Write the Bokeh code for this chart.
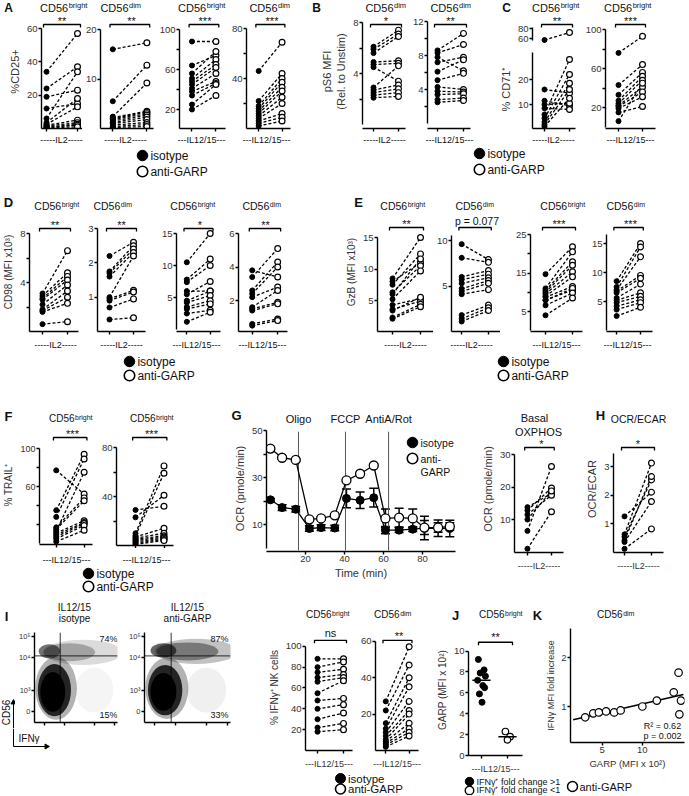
import numpy as np
from bokeh.plotting import figure
from bokeh.models import (Range1d, FixedTicker, Label, LinearAxis, ColumnDataSource,
                          Whisker, TeeHead)
from bokeh.layouts import row, column
from bokeh.embed import file_html
from bokeh.resources import INLINE

# ======================= DATA =======================
# A: %CD25+  (isotype -> anti-GARP pairs)
A1_iso = [34, 24, 19, 12, 6, 3.5, 2.5, 2.0, 1.5, 1.0, 0.7, 0.4]
A1_garp = [57, 37, 23, 15, 34, 18, 13, 5.0, 3.5, 2.5, 2.0, 1.0]
A2_iso = [16, 5.5, 2.4, 2.2, 2.0, 1.8, 1.5, 1.2, 1.0, 0.7, 0.4, 0.2]
A2_garp = [17.3, 12.8, 9.2, 3.5, 3.3, 3.0, 2.7, 2.3, 1.8, 1.2, 0.8, 0.4]
A3_iso = [88, 64, 56, 51, 48, 45, 41, 38, 34, 25, 20]
A3_garp = [88, 74, 78, 70, 65, 62, 56, 48, 46, 45, 34]
A4_iso = [46, 22, 18, 16, 14, 12, 10, 8, 6, 4, 2]
A4_garp = [69, 44, 40, 37, 33, 30, 25, 20, 12, 9, 6]
# B: pS6 MFI (rel. to unstim)
B1_iso = [6.1, 5.9, 5.6, 4.9, 4.7, 4.5, 2.9, 2.7, 2.5, 2.3, 2.1]
B1_garp = [7.4, 7.1, 6.9, 5.0, 4.8, 3.4, 4.6, 3.1, 2.8, 2.5, 2.2]
B2_iso = [8.6, 8.3, 7.8, 7.2, 6.1, 5.1, 4.3, 3.8, 3.4, 2.8, 2.5]
B2_garp = [10.6, 9.3, 6.2, 7.8, 7.5, 5.9, 4.0, 3.7, 3.5, 3.0, 2.7]
# C: %CD71+
C1_iso = [57, 16, 11.5, 10, 8.5, 6, 4.5, 3, 2, 1.2]
C1_garp = [72, 14.5, 9.5, 10.5, 8, 28, 22, 18.5, 16, 12.5]
C2_iso = [76, 43, 33, 27, 24, 22, 21, 19, 15, 6]
C2_garp = [93, 64, 56, 52, 48, 41, 36, 31, 21, 45]
# D: CD98 (MFI x10^3)
D1_iso = [3.1, 2.9, 2.7, 2.6, 2.2, 1.8, 1.7, 1.6, 0.6]
D1_garp = [6.6, 4.8, 4.5, 4.2, 3.8, 3.3, 2.8, 2.3, 0.8]
D2_iso = [2.2, 1.75, 1.7, 1.6, 1.0, 0.95, 0.9, 0.7, 0.35]
D2_garp = [2.6, 2.5, 2.4, 2.3, 2.2, 1.2, 1.15, 0.95, 0.4]
D3_iso = [10.5, 7.8, 7.4, 6.0, 5.5, 4.5, 4.2, 3.5, 3.2, 2.5, 1.2]
D3_garp = [15, 11, 10, 6.0, 7.5, 6.0, 5.3, 4.5, 4.0, 3.0, 2.7]
D4_iso = [3.8, 3.4, 2.6, 2.4, 2.2, 1.6, 1.5, 1.4, 0.6, 0.5]
D4_garp = [3.4, 5.1, 4.3, 4.0, 2.8, 2.6, 1.9, 1.8, 0.9, 0.8]
# E: GzB (MFI x10^3)
E1_iso = [8.5, 8.0, 7.5, 6.3, 6.0, 5.2, 4.3, 3.6, 3.4, 2.3, 2.1]
E1_garp = [15, 11, 12.4, 10.5, 11.6, 9.7, 5.3, 4.9, 5.5, 4.4, 4.0]
E2_iso = [9.6, 8.1, 6.0, 5.7, 5.3, 4.7, 4.4, 4.1, 1.8, 1.4, 1.1]
E2_garp = [7.9, 7.6, 6.7, 6.3, 5.9, 5.6, 5.3, 4.6, 2.9, 2.6, 2.3]
E3_iso = [14.7, 11, 10.5, 10, 9.6, 9, 8.7, 8, 7.9, 6.6, 4]
E3_garp = [21.8, 20.5, 17.9, 17, 15.3, 14, 11.5, 10.5, 11, 9.8, 8.5]
E4_iso = [8.5, 7.5, 7.0, 6.8, 6.5, 5.6, 5.2, 4.8, 4.2, 3.6, 2.5]
E4_garp = [15, 14.4, 12.7, 9.5, 9.0, 8.0, 6.5, 5.9, 5.3, 4.8, 4.0]
# F: % TRAIL+
F1_iso = [77, 35, 28, 17, 15, 13, 11, 9, 7, 5, 2]
F1_garp = [52, 94, 89, 48, 45, 75, 24, 22, 21, 19, 14]
F2_iso = [29, 23, 10, 8, 7, 6, 5, 4, 3, 2, 1]
F2_garp = [32, 41, 65, 59, 14, 10, 8, 7, 6, 5, 4]
# G: OCR time course (mean +/- err)
G_time = [2, 8, 15, 22, 28, 35, 41, 48, 55, 61, 68, 75, 81, 88, 94]
G_iso = [20.5, 17.2, 16.5, 8.3, 8.7, 8.5, 21.1, 20.3, 21.4, 7.6, 7.6, 8.0, 8.5, 8.4, 8.3]
G_iso_err = [0.6, 1.2, 1.2, 1.2, 1.2, 1.2, 4.0, 3.5, 4.0, 1.5, 1.0, 1.0, 5.0, 3.5, 3.5]
G_garp = [42.3, 38.4, 37.5, 12.2, 12.6, 13.9, 28.8, 31.6, 35.1, 12.6, 12.9, 12.6, 8.7, 8.7, 9.2]
G_garp_err = [0.6, 0.5, 0.5, 0.5, 0.5, 0.5, 0.5, 0.5, 0.5, 4.0, 4.0, 4.0, 3.0, 2.0, 1.5]
G_inject = [16.4, 40.5, 62.6]
G_inject_names = ["Oligo", "FCCP", "AntiA/Rot"]
# G: basal OXPHOS, H: OCR/ECAR
OX_iso = [13.8, 12.8, 11.5, 10.0, 6.5, 1.0]
OX_garp = [18.0, 19.7, 17.5, 18.8, 26.3, 12.4]
OE_iso = [1.25, 0.62, 0.53, 0.41, 0.35, 0.11]
OE_garp = [2.1, 3.12, 2.53, 2.65, 1.77, 0.81]
# I: flow plots (cell-cloud summaries: centre, size, density) and % IFNg+ NK cells
FLOW_ISO_CX = [58, 42, 18, 72, 26, 24, 22]
FLOW_ISO_CY = [78, 78, 79, 36, 38, 36, 34]
FLOW_ISO_W = [96, 62, 26, 46, 50, 40, 30]
FLOW_ISO_H = [28, 20, 16, 50, 70, 58, 44]
FLOW_ISO_A = [0.14, 0.26, 0.55, 0.04, 0.3, 0.8, 1.0]
FLOW_GARP_CX = [60, 50, 22, 72, 26, 24, 22]
FLOW_GARP_CY = [79, 79, 80, 36, 38, 36, 34]
FLOW_GARP_W = [96, 72, 30, 46, 50, 40, 30]
FLOW_GARP_H = [28, 20, 16, 50, 68, 56, 42]
FLOW_GARP_A = [0.24, 0.38, 0.6, 0.06, 0.3, 0.8, 1.0]
FLOW_GATE_X = 31
FLOW_GATE_Y = 74
FLOW_ISO_PCT = ["74%", "15%"]
FLOW_GARP_PCT = ["87%", "33%"]
FLOW_YT = [12, 36, 72, 96]
FLOW_YL = ["0", "10³", "10⁴", "10⁵"]
I1_iso = [88, 80, 75, 70, 66, 55, 48, 40, 30, 22, 18]
I1_garp = [88, 85, 78, 73, 70, 67, 50, 44, 36, 26, 20]
I2_iso = [27, 22, 15, 12, 10, 8, 6, 5, 4, 3, 2]
I2_garp = [57, 47, 40, 35, 27, 22, 20, 15, 12, 10, 8]
# J: GARP (MFI x10^2) by IFNg fold change
J_up = [9.2, 8.2, 7.9, 7.6, 7.2, 6.7, 6.5, 5.9, 5.1]
J_up_jit = [-0.12, 0.10, -0.05, 0.15, -0.15, 0.05, 0.12, -0.08, 0.02]
J_down = [2.3, 1.8, 1.5]
J_down_jit = [-0.08, 0.10, 0.0]
# K: IFNg MFI fold increase vs GARP
K_garp = [2.9, 3.9, 4.6, 5.5, 6.5, 7.3, 10.0, 11.8, 13.9, 14.5, 14.8, 14.6]
K_fold = [0.78, 0.86, 0.88, 0.90, 0.88, 0.92, 1.00, 1.12, 1.29, 1.69, 1.12, 0.84]

# ======================= HELPERS =======================
FONT = "Liberation Sans"
INK = "#111111"
GREY = "#333333"
FRAMES = {}
AW = {'C': .722, 'D': .722, '5': .556, '6': .556, 'b': .556, 'r': .333, 'i': .222,
      'g': .556, 'h': .556, 't': .278, 'd': .556, 'm': .833}


def tw(s, fs):
    return sum(AW.get(c, .55) for c in s) * fs


def mkfig(box, frame, xr, yr):
    L, T, R, B = box
    FL, FT, FR, FB = frame
    p = figure(width=R - L, height=B - T,
               x_range=Range1d(start=xr[0], end=xr[1]), y_range=Range1d(start=yr[0], end=yr[1]),
               output_backend="svg", toolbar_location=None, title=None,
               x_axis_location=None, y_axis_location=None,
               min_border_left=FL - L, min_border_right=R - FR,
               min_border_top=FT - T, min_border_bottom=B - FB)
    if "frame_align" in p.properties():
        p.frame_align = False
    p.outline_line_color = None
    p.background_fill_color = None
    p.border_fill_color = "white"
    p.grid.visible = False
    FRAMES[p.id] = frame
    return p


def band(box):
    L, T, R, B = box
    return mkfig(box, box, (L, R), (B, T))


def to_data(p, X, Y):
    FL, FT, FR, FB = FRAMES[p.id]
    xr, yr = p.x_range, p.y_range
    x = xr.start + (X - FL) / float(FR - FL) * (xr.end - xr.start)
    y = yr.start + (FB - Y) / float(FB - FT) * (yr.end - yr.start)
    return x, y


def lab(p, X, Y, text, fs=11, align="center", bold=False, angle=0.0, color=INK):
    FL, FT, FR, FB = FRAMES[p.id]
    p.add_layout(Label(x=X - FL, y=FB - Y, x_units="screen", y_units="screen",
                       text=text, text_font=FONT, text_font_size=f"{fs}px", text_color=color,
                       text_align=align, text_baseline="middle",
                       text_font_style="bold" if bold else "normal", angle=angle))


def sup_title(p, cx, cy, main, sup, fs=12, ss=8):
    wm, ws = tw(main, fs), tw(sup, ss)
    x0 = cx - (wm + ws) / 2
    lab(p, x0, cy, main, fs, align="left")
    lab(p, x0 + wm + 0.5, cy - 0.36 * (fs - ss) - 0.3, sup, ss, align="left")


def style_axis(ax, label, lfs, lstand):
    if label:
        ax.axis_label = label
        ax.axis_label_text_font = FONT
        ax.axis_label_text_font_size = lfs
        ax.axis_label_text_font_style = "normal"
        ax.axis_label_text_color = GREY
        ax.axis_label_standoff = lstand


def add_yaxis(p, bounds, ticks, shown=None, texts=None, label=None, fs="9.5px", lfs="11px", lstand=3):
    if texts is not None:
        major, minor, ov = list(ticks), [], dict(texts)
    else:
        major = list(ticks) if shown is None else list(shown)
        minor = [t for t in ticks if t not in major]
        ov = {}
    ax = LinearAxis(bounds=bounds, ticker=FixedTicker(ticks=major, minor_ticks=minor),
                    major_label_overrides=ov, axis_line_width=1.4, axis_line_color="black",
                    major_tick_line_width=1.4, major_tick_line_color="black",
                    minor_tick_line_width=1.4, minor_tick_line_color="black",
                    major_tick_in=0, major_tick_out=3, minor_tick_in=0, minor_tick_out=3,
                    major_label_standoff=1, major_label_text_font=FONT,
                    major_label_text_font_size=fs, major_label_text_color=GREY)
    style_axis(ax, label, lfs, lstand)
    p.add_layout(ax, "left")
    return ax


def add_xaxis(p, ticks=(0, 1), texts=None, label=None, fs="9.5px", lfs="11px", lstand=3):
    if texts is None:
        tk = FixedTicker(ticks=[], minor_ticks=list(ticks))
        ov = {}
    else:
        tk = FixedTicker(ticks=list(ticks), minor_ticks=[])
        ov = dict(texts)
    ax = LinearAxis(ticker=tk, major_label_overrides=ov,
                    axis_line_width=1.4, axis_line_color="black",
                    major_tick_line_width=1.4, major_tick_line_color="black",
                    minor_tick_line_width=1.4, minor_tick_line_color="black",
                    major_tick_in=0, major_tick_out=3, minor_tick_in=0, minor_tick_out=3,
                    major_label_standoff=1, major_label_text_font=FONT,
                    major_label_text_font_size=fs, major_label_text_color=GREY)
    style_axis(ax, label, lfs, lstand)
    p.add_layout(ax, "below")
    return ax


def bracket(p, bx0, bx1, by, text, fs=11):
    xa, ya = to_data(p, bx0, by)
    xb, _ = to_data(p, bx1, by)
    _, yt = to_data(p, bx0, by + 3)
    p.line(x=[xa, xa, xb, xb], y=[yt, ya, ya, yt], line_color="black", line_width=1.3)
    if "*" in text:
        lab(p, (bx0 + bx1) / 2, by - 3.2, text, fs)
    else:
        lab(p, (bx0 + bx1) / 2, by - 6.5, text, fs)


def paired(box, frame, iso, garp, ix, gx, cal, bounds, ticks, shown=None, stars=None, br=None,
           ylabel=None, xaxis=True, xlabel=None, pt=5.0, ylfs="11px", star_fs=11, yfs="9.5px"):
    FL, FT, FR, FB = frame
    (v1, p1), (v2, p2) = cal
    s = (p1 - p2) / float(v2 - v1)
    yr = (v1 - (FB - p1) / s, v1 + (p1 - FT) / s)
    d = float(gx - ix)
    xr = ((FL - ix) / d, (FR - ix) / d)
    p = mkfig(box, frame, xr, yr)
    add_yaxis(p, bounds, ticks, shown, label=ylabel, lfs=ylfs, fs=yfs)
    if xaxis:
        add_xaxis(p, label=xlabel, lfs="9px", lstand=5)
    n = len(iso)
    src = ColumnDataSource(dict(a=[0.0] * n, b=[1.0] * n, iso=list(iso), garp=list(garp)))
    p.segment(x0="a", y0="iso", x1="b", y1="garp", source=src, line_color="black",
              line_width=1.3, line_dash="3 2")
    p.scatter(x="a", y="iso", source=src, marker="circle", size=pt, fill_color="black",
              line_color="black", line_width=1)
    p.scatter(x="b", y="garp", source=src, marker="circle", size=pt + 0.8, fill_color="white",
              line_color="black", line_width=1.2)
    if stars is not None:
        bracket(p, ix - 3, gx + 3, br, stars, star_fs)
    return p


def legend_pair(p, X, Y1, Y2, t1="isotype", t2="anti-GARP", fs=12, d=10.5):
    x1, y1 = to_data(p, X, Y1)
    x2, y2 = to_data(p, X, Y2)
    p.scatter([x1], [y1], size=d, marker="circle", fill_color="black", line_color="black")
    p.scatter([x2], [y2], size=d, marker="circle", fill_color="white", line_color="black", line_width=1.6)
    lab(p, X + d * 0.75, Y1, t1, fs, align="left")
    lab(p, X + d * 0.75, Y2, t2, fs, align="left")


# ======================= ROW 1 : A, B, C =======================
hdr1 = band((0, 0, 688, 14))
lab(hdr1, 8, 7, "A", 12, bold=True)
lab(hdr1, 316, 7, "B", 12, bold=True)
lab(hdr1, 506, 7, "C", 12, bold=True)
for cx, sup in [(63, "bright"), (120, "dim"), (201, "bright"), (269, "dim"),
                (385, "dim"), (450, "dim"), (555, "bright"), (627, "bright")]:
    sup_title(hdr1, cx, 7, "CD56", sup, 11, 7.5)

PT1, PB1, FB1 = 14, 134, 128
pA1 = paired((0, PT1, 82, PB1), (41, PT1, 82, FB1), A1_iso, A1_garp, 46, 77, ((60, 28), (0, 128)),
             (0, 60), [20, 40, 60], stars="**", br=24, ylabel="%CD25+")
pA2 = paired((82, PT1, 156, PB1), (97, PT1, 153, FB1), A2_iso, A2_garp, 110, 146, ((20, 29), (0, 128)),
             (0, 20), [10, 20], stars="**", br=24)
pA3 = paired((156, PT1, 228, PB1), (177, PT1, 225, FB1), A3_iso, A3_garp, 190, 215, ((100, 29), (20, 109)),
             (0, 100), [20, 40, 60, 80, 100], shown=[20, 60, 100], stars="***", br=24)
pA4 = paired((228, PT1, 296, PB1), (243, PT1, 290, FB1), A4_iso, A4_garp, 256, 281, ((80, 28), (40, 78)),
             (0, 80), [20, 40, 60, 80], shown=[40, 80], stars="***", br=24)
pB1 = paired((296, PT1, 408, PB1), (362, PT1, 405, FB1), B1_iso, B1_garp, 373, 398, ((8, 22), (4, 73)),
             (0, 8), [2, 4, 6, 8], shown=[4, 8], stars="*", br=24, ylabel="pS6 MFI\n(Rel. to Unstim)")
pB2 = paired((408, PT1, 475, PB1), (427, PT1, 470, FB1), B2_iso, B2_garp, 437, 463, ((12, 21), (4, 89)),
             (0, 12), [2, 4, 6, 8, 10, 12], shown=[4, 8, 12], stars="**", br=24)
hi = [(a, b) for a, b in zip(C1_iso, C1_garp) if a > 40]
lo = [(a, b) for a, b in zip(C1_iso, C1_garp) if a <= 40]
pC1t = paired((475, PT1, 578, 46), (532, PT1, 575, 43), [a for a, b in hi], [b for a, b in hi], 544, 569,
              ((80, 28), (60, 38)), (56, 83), [60, 80], stars="**", br=24, xaxis=False)
pC1b = paired((475, 46, 578, PB1), (532, 49, 575, FB1), [a for a, b in lo], [b for a, b in lo], 544, 569,
              ((20, 79), (10, 104)), (0, 31), [10, 20], ylabel="% CD71⁺")
pC2 = paired((578, PT1, 688, PB1), (605, PT1, 655, FB1), C2_iso, C2_garp, 618, 642, ((100, 29), (60, 68)),
             (0, 100), [20, 40, 60, 80, 100], shown=[20, 60, 100], stars="***", br=24)

ftr1 = band((0, 134, 688, 182))
for cx, t in [(61, "-----IL2-----"), (125, "-----IL2-----"), (201, "---IL12/15---"), (266, "---IL12/15---"),
              (384, "-----IL2-----"), (449, "---IL12/15---"), (553, "-----IL2-----"), (630, "---IL12/15---")]:
    lab(ftr1, cx, 139, t, 9)
legend_pair(ftr1, 142, 155, 171)
legend_pair(ftr1, 479, 153, 169)

row1 = row(pA1, pA2, pA3, pA4, pB1, pB2, column(pC1t, pC1b), pC2)

# ======================= ROW 2 : D, E =======================
hdr2 = band((0, 182, 688, 212))
lab(hdr2, 8, 202, "D", 13, bold=True)
lab(hdr2, 358, 202, "E", 13, bold=True)
for cx, sup in [(56, "bright"), (112, "dim"), (192, "bright"), (261, "dim"),
                (402, "bright"), (474, "dim"), (562, "bright"), (625, "dim")]:
    sup_title(hdr2, cx, 205.5, "CD56", sup, 10.5, 7)

PT2, PB2, FB2 = 212, 336, 331
pD1 = paired((0, PT2, 82, PB2), (29, PT2, 78, FB2), D1_iso, D1_garp, 42, 67, ((8, 233), (0, 331)),
             (0, 8), [2, 4, 6, 8], shown=[4, 8], stars="**", br=228, ylabel="CD98 (MFI x10³)", ylfs="10px")
pD2 = paired((82, PT2, 158, PB2), (97, PT2, 145, FB2), D2_iso, D2_garp, 109, 133, ((3, 228), (1, 296.7)),
             (0, 3), [1, 2, 3], stars="**", br=228)
pD3 = paired((158, PT2, 226, PB2), (173, PT2, 220, FB2), D3_iso, D3_garp, 184, 209, ((15, 233), (5, 297)),
             (0, 15), [5, 10, 15], stars="*", br=228)
pD4 = paired((226, PT2, 296, PB2), (237, PT2, 287, FB2), D4_iso, D4_garp, 251, 277, ((6, 233), (2, 300)),
             (0, 6), [2, 4, 6], stars="**", br=228)
pE1 = paired((296, PT2, 433, PB2), (377, PT2, 433, FB2), E1_iso, E1_garp, 392, 420, ((15, 237), (5, 300)),
             (0, 15), [5, 10, 15], stars="**", br=227, ylabel="GzB (MFI x10³)", ylfs="10px")
pE2 = paired((433, PT2, 500, PB2), (447, PT2, 500, FB2), E2_iso, E2_garp, 458, 487, ((10, 240), (0, 331)),
             (0, 10.5), [5, 10], stars="p = 0.077", br=227, star_fs=10.5)
pE3 = paired((500, PT2, 588, PB2), (530, PT2, 582, FB2), E3_iso, E3_garp, 545, 572, ((25, 234), (5, 311)),
             (0, 25), [5, 10, 15, 20, 25], shown=[5, 15, 25], stars="***", br=227)
pE4 = paired((588, PT2, 688, PB2), (602, PT2, 652, FB2), E4_iso, E4_garp, 613, 639, ((15, 243), (5, 301)),
             (0, 16.5), [5, 10, 15], stars="***", br=227)

ftr2 = band((0, 336, 688, 395))
for cx, t in [(55, "-----IL2-----"), (121, "-----IL2-----"), (196, "---IL12/15---"), (262, "---IL12/15---"),
              (405, "-----IL2-----"), (471, "-----IL2-----"), (556, "---IL12/15---"), (627, "---IL12/15---")]:
    lab(ftr2, cx, 344, t, 9)
legend_pair(ftr2, 129, 361, 375)
legend_pair(ftr2, 503, 361, 375)

row2 = row(pD1, pD2, pD3, pD4, pE1, pE2, pE3, pE4)

# ======================= ROW 3 : F, G, H =======================
G_X0PX, G_XS = 266.0, (422 - 305) / 60.0          # x calibration of the OCR time axis
hdr3 = band((0, 395, 688, 425))
lab(hdr3, 8, 416, "F", 13, bold=True)
lab(hdr3, 236, 415, "G", 13, bold=True)
lab(hdr3, 600, 415, "H", 13, bold=True)
sup_title(hdr3, 70, 418, "CD56", "bright", 10, 7)
sup_title(hdr3, 151, 418, "CD56", "bright", 10, 7)
for t, name in zip(G_inject, G_inject_names):
    lab(hdr3, G_X0PX + t * G_XS, 418, name, 11)
lab(hdr3, 534, 417, "Basal", 11)
lab(hdr3, 638, 418.5, "OCR/ECAR", 10.5)

pF1 = paired((0, 425, 98, 548), (35, 425, 92, 544), F1_iso, F1_garp, 53, 83, ((100, 448), (60, 486)),
             (0, 100), [20, 40, 60, 80, 100], shown=[60, 100], stars="***", br=437,
             ylabel="% TRAIL⁺", ylfs="10px", yfs="9px")
pF2 = paired((98, 425, 180, 548), (113, 425, 173, 545), F2_iso, F2_garp, 133, 163, ((80, 447), (40, 496)),
             (0, 80), [20, 40, 60, 80], shown=[40, 80], stars="***", br=437)
ftrF = band((0, 548, 180, 600))
lab(ftrF, 66, 559, "---IL12/15---", 9)
lab(ftrF, 146, 559, "---IL12/15---", 9)
legend_pair(ftrF, 88, 573, 586)

# G time course
gframe = (266, 425, 455, 551)
gs = (524 - 430) / 40.0
pG = mkfig((180, 425, 478, 600), gframe,
           ((266 - G_X0PX) / G_XS, (455 - G_X0PX) / G_XS),
           (10 - (551 - 524) / gs, 10 + (524 - 425) / gs))
add_yaxis(pG, (0, 50), [10, 20, 30, 40, 50], shown=[10, 30, 50], label="OCR (pmole/min)")
add_xaxis(pG, [20, 40, 60, 80], texts={20: "20", 40: "40", 60: "60", 80: "80"}, label="Time (min)", lstand=2)
pG.segment(x0=G_inject, y0=[-1] * 3, x1=G_inject, y1=[49.5] * 3, line_color="#555555", line_width=1)
gsrc = ColumnDataSource(dict(t=G_time, iso=G_iso, garp=G_garp,
                             iso_lo=[v - e for v, e in zip(G_iso, G_iso_err)],
                             iso_hi=[v + e for v, e in zip(G_iso, G_iso_err)],
                             garp_lo=[v - e for v, e in zip(G_garp, G_garp_err)],
                             garp_hi=[v + e for v, e in zip(G_garp, G_garp_err)]))
for lo_, hi_ in [("garp_lo", "garp_hi"), ("iso_lo", "iso_hi")]:
    pG.add_layout(Whisker(base="t", lower=lo_, upper=hi_, source=gsrc, line_color="black",
                          line_width=1.5, upper_head=TeeHead(size=9, line_width=1.5),
                          lower_head=TeeHead(size=9, line_width=1.5)))
pG.line("t", "garp", source=gsrc, line_color="black", line_width=1.3)
pG.line("t", "iso", source=gsrc, line_color="black", line_width=1.3)
pG.scatter("t", "iso", source=gsrc, marker="circle", size=8, fill_color="black", line_color="black")
pG.scatter("t", "garp", source=gsrc, marker="circle", size=9, fill_color="white", line_color="black",
           line_width=1.3)
gx1, gy1 = to_data(pG, 412, 442)
gx2, gy2 = to_data(pG, 412, 458)
pG.scatter([gx1], [gy1], size=10.5, marker="circle", fill_color="black", line_color="black")
pG.scatter([gx2], [gy2], size=10.5, marker="circle", fill_color="white", line_color="black", line_width=1.6)
lab(pG, 420, 442, "isotype", 10.5, align="left")
lab(pG, 420, 458, "anti-", 10.5, align="left")
lab(pG, 420, 471, "GARP", 10.5, align="left")

pOX = paired((478, 425, 580, 600), (510, 425, 563, 552), OX_iso, OX_garp, 524, 550, ((30, 454), (10, 519)),
             (0, 30), [10, 20, 30], stars="*", br=447, ylabel="OCR (pmole/min)", xlabel="-----IL2-----")
lab(pOX, 534, 431.5, "OXPHOS", 11)
pH = paired((580, 425, 688, 600), (613, 425, 663, 552), OE_iso, OE_garp, 624, 651, ((3, 466), (1, 523)),
            (0, 3.45), [1, 2, 3], stars="*", br=447, ylabel="OCR/ECAR", xlabel="-----IL2-----")

row3 = column(hdr3, row(column(row(pF1, pF2), ftrF), pG, pOX, pH))

# ======================= ROW 4 : I, J, K =======================
hdr4 = band((0, 600, 688, 624))
lab(hdr4, 6, 616, "I", 13, bold=True)
lab(hdr4, 455, 615, "J", 13, bold=True)
lab(hdr4, 537, 615, "K", 13, bold=True)
lab(hdr4, 74, 607, "IL12/15", 10)
lab(hdr4, 74, 617.5, "isotype", 10)
lab(hdr4, 187, 607, "IL12/15", 10)
lab(hdr4, 187, 617.5, "anti-GARP", 10)
sup_title(hdr4, 327, 614, "CD56", "bright", 10, 7)
sup_title(hdr4, 392, 614, "CD56", "dim", 10, 7)
sup_title(hdr4, 500, 614, "CD56", "bright", 10, 7)
sup_title(hdr4, 615, 614, "CD56", "dim", 10, 7)


def flow(box, frame, cx, cy, w, h, a, pct):
    p = mkfig(box, frame, (0, 100), (0, 100))
    add_yaxis(p, (0, 100), FLOW_YT, texts=dict(zip(FLOW_YT, FLOW_YL)), fs="7.5px")
    add_xaxis(p, FLOW_YT)
    src = ColumnDataSource(dict(x=cx, y=cy, w=w, h=h, a=a))
    p.ellipse(x="x", y="y", width="w", height="h", fill_color="black", fill_alpha="a",
              line_color=None, source=src)
    p.segment(x0=[FLOW_GATE_X, 0], y0=[0, FLOW_GATE_Y], x1=[FLOW_GATE_X, 100], y1=[100, FLOW_GATE_Y],
              line_color="black", line_width=0.8)
    FL, FT, FR, FB = frame
    lab(p, FR - 12, FT + 6, pct[0], 9)
    lab(p, FR - 12, FB - 8, pct[1], 9)
    return p


leftI = band((0, 624, 15, 728))
lab(leftI, 6, 712, "CD56", 10, angle=np.pi / 2)
leftI.line([13, 13], [728, 702], line_color="black", line_width=1)
leftI.scatter([13], [702], marker="triangle", size=5, fill_color="black", line_color="black")
pFl1 = flow((15, 624, 125, 728), (31, 632, 117, 722), FLOW_ISO_CX, FLOW_ISO_CY, FLOW_ISO_W, FLOW_ISO_H,
            FLOW_ISO_A, FLOW_ISO_PCT)
pFl2 = flow((125, 624, 240, 728), (143, 632, 230, 722), FLOW_GARP_CX, FLOW_GARP_CY, FLOW_GARP_W,
            FLOW_GARP_H, FLOW_GARP_A, FLOW_GARP_PCT)
botI = band((0, 728, 240, 795))
botI.line([13, 13, 46], [728, 746, 746], line_color="black", line_width=1)
botI.scatter([46], [746], marker="triangle", angle=-np.pi / 2, size=5, fill_color="black", line_color="black")
lab(botI, 18, 738, "IFNγ", 10, align="left")
flowcol = column(row(leftI, pFl1, pFl2), botI)

pI1 = paired((240, 624, 357, 771), (305, 624, 352, 751), I1_iso, I1_garp, 317, 343, ((100, 646), (20, 730)),
             (0, 100), [20, 40, 60, 80, 100], stars="ns", br=640, ylabel="% IFNγ⁺ NK cells", ylfs="10px",
             xlabel="---IL12/15---")
pI2 = paired((357, 624, 430, 771), (372, 624, 418, 751), I2_iso, I2_garp, 383, 408, ((60, 641), (0, 751)),
             (0, 60), [20, 40, 60], stars="**", br=640, xlabel="---IL12/15---")
ftrI = band((240, 771, 430, 795))
legend_pair(ftrI, 340, 778, 788.5, fs=11.5, d=10)
Icol = column(row(pI1, pI2), ftrI)

# J
jframe = (468, 624, 522, 757)
js = (757 - 651) / 10.0
pJ = mkfig((430, 624, 543, 776), jframe, ((468 - 481) / 26.0, (522 - 481) / 26.0),
           (0.0, (757 - 624) / js))
add_yaxis(pJ, (0, 10), [0, 2, 4, 6, 8, 10], label="GARP (MFI x 10²)", lfs="10px")
add_xaxis(pJ, [0, 1], label="---IL12/15---", lfs="9px", lstand=5)
pJ.scatter(J_up_jit, J_up, marker="circle", size=6, fill_color="black", line_color="black")
pJ.scatter([1 + j for j in J_down_jit], J_down, marker="circle", size=6.5, fill_color="white",
           line_color="black", line_width=1.2)
mu, md = float(np.median(J_up)), float(np.median(J_down))
pJ.segment(x0=[-0.35, 0.65], y0=[mu, md], x1=[0.35, 1.35], y1=[mu, md], line_color="black", line_width=1.5)
bracket(pJ, 478, 512, 642, "**")

# K
kframe = (565, 628, 684, 742)
kys = (706 - 657) / 1.0
kxs = (640 - 598) / 5.0
pK = mkfig((543, 624, 688, 776), kframe, (5 - (598 - 565) / kxs, 5 + (684 - 598) / kxs),
           (1 - (742 - 706) / kys, 1 + (706 - 628) / kys))
add_yaxis(pK, "auto", [1, 2], label="IFNγ MFI fold increase", lfs="9px", lstand=2)
add_xaxis(pK, [5, 10], texts={5: "5", 10: "10"}, label="GARP (MFI x 10²)", lfs="9.5px", lstand=2)
slope, icpt = np.polyfit(K_garp, K_fold, 1)
kx = [min(K_garp) - 1.5, max(K_garp) + 0.3]
pK.line(kx, [slope * v + icpt for v in kx], line_color="black", line_width=1.5)
pK.scatter(K_garp, K_fold, marker="circle", size=7.5, fill_color="white", line_color="black", line_width=1.2)
lab(pK, 657, 725, "R² = 0.62", 9)
lab(pK, 657, 735.5, "p = 0.002", 9)

ftrJK = band((430, 776, 688, 795))
ftrJK.scatter([469], [781], size=8.5, marker="circle", fill_color="black", line_color="black")
ftrJK.scatter([469], [790], size=8.5, marker="circle", fill_color="white", line_color="black", line_width=1.4)
lab(ftrJK, 476, 781.5, "IFNγ⁺ fold change >1", 9, align="left")
lab(ftrJK, 476, 789.5, "IFNγ⁺ fold change <1", 9, align="left")
ftrJK.scatter([572], [786], size=10, marker="circle", fill_color="white", line_color="black", line_width=1.5)
lab(ftrJK, 579, 786, "anti-GARP", 11, align="left")
JKcol = column(row(pJ, pK), ftrJK)

row4 = column(hdr4, row(flowcol, Icol, JKcol))

layout = column(hdr1, row1, ftr1, hdr2, row2, ftr2, row3, row4)
open("out.html", "w").write(file_html(layout, INLINE, "GARP NK cells"))
